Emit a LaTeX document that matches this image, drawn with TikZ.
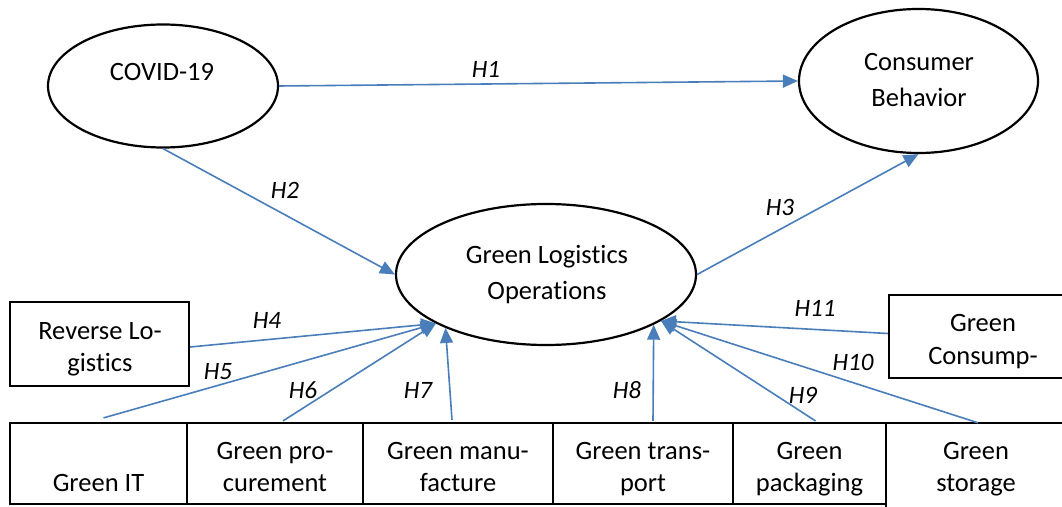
\documentclass[tikz,border=0pt]{standalone}
\usepackage{fontspec}
\setmainfont[Ligatures={NoCommon}]{Carlito}
\usetikzlibrary{arrows.meta,shapes.geometric}
\definecolor{lnblue}{HTML}{4A7EBB}
\begin{document}
\begin{tikzpicture}[x=1pt,y=1pt,
  ell/.style={draw=black, line width=2.2pt, ellipse, inner sep=0pt, fill=white},
  bx/.style={draw=black, line width=2.2pt, rectangle, inner sep=0pt, fill=white},
  txt/.style={align=center, inner sep=0pt, font=\fontsize{26.5}{#1}\selectfont},
  lbl/.style={inner sep=0pt, font=\fontsize{25}{30}\selectfont\itshape},
  conn/.style={draw=lnblue, line width=1.6pt, -{Triangle[length=15pt,width=13pt]}, fill=lnblue},
  line/.style={draw=lnblue, line width=1.6pt}]
\useasboundingbox (0,0) rectangle (1062,506);
\clip (0,0) rectangle (1062,506);
\fill[white] (0,0) rectangle (1062,506);
% ellipses
\node[ell, minimum width=230pt, minimum height=123pt] (covid) at (163,420) {};
\node[txt=35] (covidt) at (162,432) {\strut COVID-19};
\node[ell, minimum width=239pt, minimum height=144pt] (cons) at (918.5,425) {};
\node[txt=36] (const) at (919,424.2) {\strut Consumer\\\strut Behavior};
\node[ell, minimum width=300pt, minimum height=141pt] (glo) at (546,231.5) {};
\node[txt=36] (glot) at (547,231.2) {\strut Green Logistics\\\strut Operations};
% side boxes
\node[bx, minimum width=179pt, minimum height=84pt] (rev) at (99.5,162) {};
\node[txt=32] (revt) at (100,157.1) {\strut Reverse Lo-\\\strut gistics};
\node[bx, minimum width=188pt, minimum height=83pt] (gcs) at (983,169.5) {};
\node[txt=33] (gcst) at (983,164.4) {\strut Green\\\strut Consump-};
% bottom boxes
\node[bx, minimum width=177pt, minimum height=81pt] (git) at (98.5,42.5) {};
\node[txt=32] (gitt) at (98.5,21.4) {\strut Green IT};
\node[bx, minimum width=176pt, minimum height=81pt] (gpr) at (275,42.5) {};
\node[txt=32] (gprt) at (275,37.4) {\strut Green pro-\\\strut curement};
\node[bx, minimum width=190pt, minimum height=81pt] (gma) at (458,42.5) {};
\node[txt=32] (gmat) at (458,37.4) {\strut Green manu-\\\strut facture};
\node[bx, minimum width=180pt, minimum height=81pt] (gtr) at (643,42.5) {};
\node[txt=32] (gtrt) at (643,37.4) {\strut Green trans-\\\strut port};
\node[bx, minimum width=153pt, minimum height=81pt] (gpa) at (809.5,42.5) {};
\node[txt=32] (gpat) at (809.5,37.4) {\strut Green\\\strut packaging};
\node[inner sep=0pt, minimum width=180pt, minimum height=81pt] (gst) at (976,42.5) {};
\draw[black, line width=2.2pt] ([yshift=-20pt]gst.south west) -- (gst.north west) -- (gst.north east);
\node[txt=32] (gstt) at (976,37.4) {\strut Green\\\strut storage};
% connectors
\draw[conn] (covid.east) -- (cons.west);
\draw[conn] (covid.south) -- (glo.west);
\draw[conn] (glo.east) -- (cons.south);
\draw[conn] ([yshift=-3pt]rev.east) -- (glo.204);
\draw[conn] ([xshift=5pt,yshift=4pt]git.north) -- (glo.204);
\draw[conn] ([xshift=8pt,yshift=1pt]gpr.north) -- (glo.204);
\draw[conn] ([xshift=-6pt,yshift=2pt]gma.north) -- (glo.208);
\draw[conn] ([xshift=10pt,yshift=1pt]gtr.north) -- (glo.335);
\draw[conn] ([xshift=6pt,yshift=1pt]gpa.north) -- (glo.338);
\draw[conn] ([xshift=2pt]gst.north) -- (glo.338);
\draw[conn] ([yshift=3pt]gcs.west) -- (glo.338);
% labels
\node[lbl] (l1) at (486,437) {H1};
\node[lbl] (l2) at (285,316) {H2};
\node[lbl] (l3) at (780,299) {H3};
\node[lbl] (l4) at (267,186) {H4};
\node[lbl] (l5) at (218,134) {H5};
\node[lbl] (l6) at (303,116) {H6};
\node[lbl] (l7) at (418,116) {H7};
\node[lbl] (l8) at (627,116) {H8};
\node[lbl] (l9) at (803,111) {H9};
\node[lbl] (l10) at (853,144) {H10};
\node[lbl] (l11) at (815,198) {H11};
\end{tikzpicture}
\end{document}
